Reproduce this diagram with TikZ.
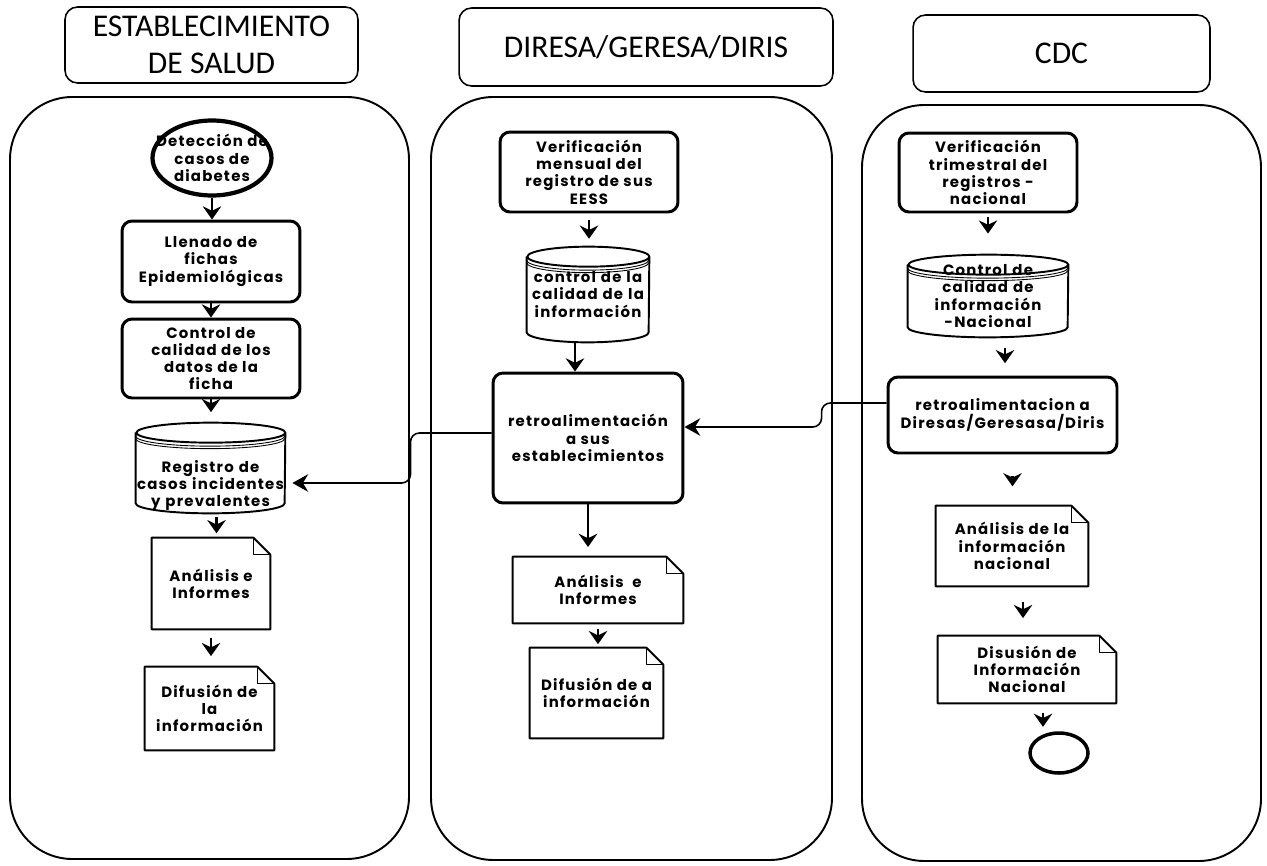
\documentclass[tikz,border=0pt]{standalone}
\usepackage{fontspec}
\usepackage{tikz}
\usetikzlibrary{calc,arrows.meta,shapes.geometric}
\newfontfamily\titlefont{Carlito}
\newfontfamily\boxfont{Poppins}[LetterSpace=8]
\newcommand{\boxtext}{\boxfont\bfseries\fontsize{8.5}{9.8}\selectfont}
\tikzset{
  lane/.style={draw, line width=1.1pt, rounded corners=1.25cm},
  head/.style={draw, line width=0.9pt, rounded corners=0.25cm, align=center, font=\titlefont\fontsize{18}{21}\selectfont},
  proc/.style={draw, line width=1.7pt, rounded corners=0.2cm, align=center, font=\boxtext, inner sep=1pt},
  term/.style={draw, ellipse, line width=2.4pt, inner sep=0pt},
  docline/.style={draw, line width=1.1pt, line join=round},
  doc/.style={align=center, font=\boxtext, inner sep=1pt,
    append after command={\pgfextra{
      \draw[docline] (\tikzlastnode.north west)
        -- ([xshift=-0.34cm]\tikzlastnode.north east)
        -- ([yshift=-0.34cm]\tikzlastnode.north east)
        -- (\tikzlastnode.south east) -- (\tikzlastnode.south west) -- cycle;
      \draw[docline, line width=0.8pt] ([xshift=-0.34cm]\tikzlastnode.north east)
        |- ([yshift=-0.34cm]\tikzlastnode.north east);}}},
  dbline/.style={draw, line width=1.1pt},
  db/.style={align=center, font=\boxtext, text width=#1, inner sep=0pt,
    append after command={\pgfextra{
      \draw[dbline] ([yshift=-0.2cm]\tikzlastnode.north west)
        -- ([yshift=0.2cm]\tikzlastnode.south west)
        arc[start angle=180, end angle=360, x radius=#1/2, y radius=0.2cm]
        -- ([yshift=-0.2cm]\tikzlastnode.north east)
        arc[start angle=0, end angle=180, x radius=#1/2, y radius=0.2cm]
        arc[start angle=180, end angle=360, x radius=#1/2, y radius=0.2cm];
      \foreach \drop in {-0.27cm,-0.32cm}
        \draw[dbline, line width=0.5pt] ([yshift=\drop]\tikzlastnode.north west)
          arc[start angle=180, end angle=360, x radius=#1/2, y radius=0.2cm];}}},
  flow/.style={draw, line width=1.6pt, -{Stealth[length=7.5pt,width=10.5pt,inset=2.5pt]}},
  link/.style={draw, line width=0.9pt, rounded corners=5pt, -{Stealth[length=9pt,width=10pt,inset=3pt]}}
}
\begin{document}
\begin{tikzpicture}[x=0.02cm, y=0.02cm]
  \path[fill=white, use as bounding box] (0,0) rectangle (1267,-865);

  \draw[lane] (10,-97) rectangle (409,-859);
  \draw[lane] (431,-97) rectangle (832,-860);
  \draw[lane] (862,-105) rectangle (1261,-861);

  \node[head, minimum width=5.86cm, minimum height=1.52cm] (salud) at (211.5,-45) {ESTABLECIMIENTO\\DE SALUD};
  \node[head, minimum width=7.48cm, minimum height=1.56cm] (diresa) at (646,-47) {DIRESA/GERESA/DIRIS};
  \node[head, minimum width=5.94cm, minimum height=1.54cm] (cdc) at (1061.5,-53.5) {CDC};

  \node[term, minimum width=2.38cm, minimum height=1.5cm,
    label={[font=\boxtext, align=center]center:Detección de\\casos de\\diabetes}] (det) at (212,-158) {};
  \node[proc, minimum width=3.56cm, minimum height=1.62cm] (llenado) at (211,-261.5) {Llenado de\\fichas\\Epidemiológicas};
  \node[proc, minimum width=3.56cm, minimum height=1.58cm] (ctrlficha) at (211,-358.5) {Control de\\calidad de los\\datos de la\\ficha};
  \node[db=2.98cm, minimum height=1.8cm] (registro) at (210.5,-468) {\rule{0pt}{27pt}Registro de\\casos incidentes\\y prevalentes};
  \node[doc, minimum width=2.36cm, minimum height=1.82cm] (analisis) at (211,-583.5) {Análisis e\\Informes};
  \node[doc, minimum width=2.58cm, minimum height=1.66cm] (difusion) at (209.5,-708.5) {Difusión de\\la\\información};

  \node[proc, minimum width=3.56cm, minimum height=1.6cm] (verifmes) at (589,-172) {Verificación\\mensual del\\registro de sus\\EESS};
  \node[db=2.44cm, minimum height=1.9cm] (ctrlinfo) at (588,-294.5) {control de la\\calidad de la\\información};
  \node[proc, minimum width=3.8cm, minimum height=2.6cm] (retroeess) at (588,-438) {retroalimentación\\a sus\\establecimientos};
  \node[doc, minimum width=3.4cm, minimum height=1.32cm] (analisisr) at (598,-590) {Análisis \ e\\Informes};
  \node[doc, minimum width=2.66cm, minimum height=1.8cm] (difusionr) at (596.5,-693) {Difusión de a\\información};

  \node[proc, minimum width=3.56cm, minimum height=1.58cm] (veriftri) at (988,-172.5) {Verificación\\trimestral del\\registros -\\nacional};
  \node[db=3.2cm, minimum height=1.64cm] (ctrlnac) at (988,-296) {Control de\\calidad de\\información\\-Nacional};
  \node[proc, minimum width=4.58cm, minimum height=1.52cm] (retrodir) at (1002.5,-415) {retroalimentacion a\\Diresas/Geresasa/Diris};
  \node[doc, minimum width=3.04cm, minimum height=1.6cm] (analisisn) at (1012,-546) {Análisis de la\\información\\nacional};
  \node[doc, minimum width=3.56cm, minimum height=1.34cm] (disusion) at (1027,-669.5) {Disusión de\\Información\\Nacional};
  \node[term, line width=2pt, minimum width=1.16cm, minimum height=0.8cm] (fin) at (1059,-753) {};

  \draw[flow] (det.south) -- (det.south |- llenado.north);
  \draw[flow] (llenado.south) -- (llenado.south |- ctrlficha.north);
  \draw[flow, shorten >=6pt] (ctrlficha.south) -- (ctrlficha.south |- registro.north);
  \draw[flow, shorten <=2pt, shorten >=2.5pt] ($(registro.south)+(6,0)$) -- ($(registro.south |- analisis.north)+(6,0)$);
  \draw[flow, shorten <=5pt, shorten >=6pt] (analisis.south) -- (analisis.south |- difusion.north);

  \draw[flow, shorten <=3.5pt, shorten >=4.5pt] (verifmes.south) -- (verifmes.south |- ctrlinfo.north);
  \draw[flow] ($(ctrlinfo.south)+(-13,0)$) -- ($(ctrlinfo.south |- retroeess.north)+(-13,0)$);
  \draw[flow, shorten >=5.5pt] (retroeess.south) -- (retroeess.south |- analisisr.north);
  \draw[flow, shorten <=3pt, shorten >=2pt] (analisisr.south) -- (analisisr.south |- difusionr.north);

  \draw[flow, shorten <=2pt, shorten >=12pt] (veriftri.south) -- (veriftri.south |- ctrlnac.north);
  \draw[flow, shorten <=6pt, shorten >=7pt] ($(ctrlnac.south)+(17,0)$) -- ($(ctrlnac.south |- retrodir.north)+(17,0)$);
  \draw[flow, shorten <=12pt, shorten >=11pt] ($(retrodir.south)+(10,0)$) -- ($(retrodir.south |- analisisn.north)+(10,0)$);
  \draw[flow, shorten <=9pt, shorten >=10pt] ($(analisisn.south)+(11,0)$) -- ($(analisisn.south |- disusion.north)+(11,0)$);
  \draw[flow, shorten <=5.5pt, shorten >=2.5pt] ($(disusion.south)+(16,0)$) -- ($(disusion.south |- fin.north)+(16,0)$);

  \draw[link] ([yshift=0.24cm]retrodir.west) -- ++(-65,0) |- ([yshift=0.22cm]retroeess.east);
  \draw[link, shorten >=4pt] ([yshift=0.1cm]retroeess.west) -- ++(-81,0) |- ([yshift=-0.3cm]registro.east);
\end{tikzpicture}
\end{document}
